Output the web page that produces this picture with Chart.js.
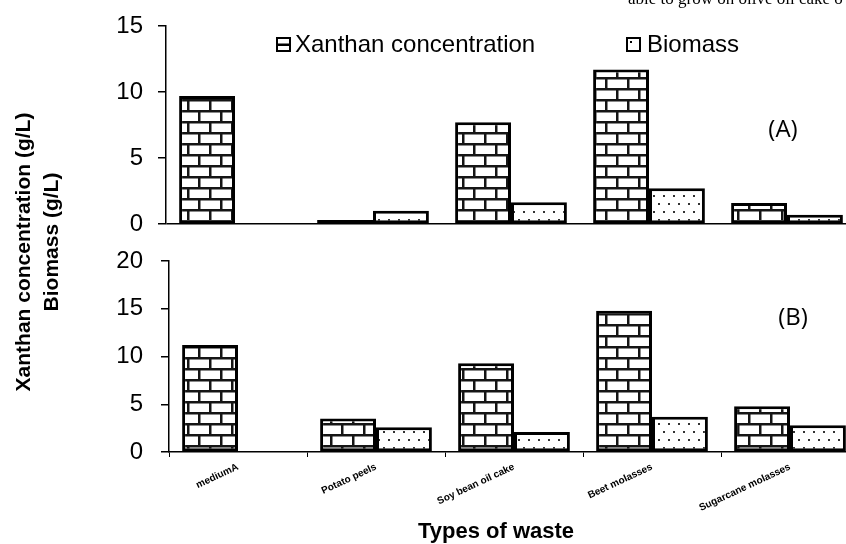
<!DOCTYPE html>
<html lang="en">
<head>
<meta charset="UTF-8">
<script src="https://cdn.jsdelivr.net/npm/chart.js"></script>
<title>Xanthan and biomass by type of waste</title>
<style>
  html, body { margin: 0; padding: 0; background: #fff; overflow: hidden; }
  #wrap { position: relative; width: 846px; height: 544px; overflow: hidden; background: #fff; }
  #boxA { position: absolute; left: 0; top: 0; width: 856px; height: 238px; }
  #boxB { position: absolute; left: 0; top: 236px; width: 859px; height: 308px; }
  .txt { position: absolute; white-space: nowrap; color: #000; }
  .rot { transform: translate(-50%, -50%) rotate(-90deg); font: bold 21px "Liberation Sans", Arial, sans-serif; }
</style>
</head>
<body>
<div id="wrap">
  <div id="boxA"><canvas id="chartA"></canvas></div>
  <div id="boxB"><canvas id="chartB"></canvas></div>
  <div class="txt" style="left:628px; top:-10px; font:17px 'Liberation Serif', 'Times New Roman', serif; line-height:18px;">able to grow on olive oil cake o</div>
  <div class="txt rot" style="left:23px; top:252px;">Xanthan concentration (g/L)</div>
  <div class="txt rot" style="left:51px; top:242px;">Biomass (g/L)</div>
  <div class="txt" style="left:496px; top:531px; transform:translate(-50%,-50%); font:bold 22px 'Liberation Sans', Arial, sans-serif;">Types of waste</div>
</div>
<script>
  // values
  const categories = ['mediumA', 'Potato peels', 'Soy bean oil cake', 'Beet molasses', 'Sugarcane molasses'];
  const xanthanA = [9.7, 0.3, 7.7, 11.7, 1.6];
  const biomassA = [null, 1.0, 1.65, 2.7, 0.7];
  const xanthanB = [11.2, 3.5, 9.3, 14.8, 4.8];
  const biomassB = [null, 2.6, 2.1, 3.7, 2.8];
  const seriesNames = ['Xanthan concentration', 'Biomass'];
  const yMaxA = 15;
  const yMaxB = 20;
  const yStep = 5;

  const FONT = '"Liberation Sans", Arial, sans-serif';

  function brickPattern(ctx) {
    const c = document.createElement('canvas');
    c.width = 22; c.height = 22;
    const g = c.getContext('2d');
    g.fillStyle = '#fff';
    g.fillRect(0, 0, 22, 22);
    g.fillStyle = '#151515';
    g.fillRect(0, 0, 22, 2.5);
    g.fillRect(0, 11, 22, 2.5);
    g.fillRect(0, 0, 2.5, 11);
    g.fillRect(11, 11, 2.5, 11);
    return ctx.createPattern(c, 'repeat');
  }

  function dotPattern(ctx) {
    const c = document.createElement('canvas');
    c.width = 10; c.height = 16;
    const g = c.getContext('2d');
    g.fillStyle = '#fff';
    g.fillRect(0, 0, 10, 16);
    g.fillStyle = '#333';
    g.fillRect(3, 3, 2, 2);
    g.fillRect(8, 11, 2, 2);
    return ctx.createPattern(c, 'repeat');
  }

  // legend + panel letter, drawn on top of each panel
  function panelText(letter, lx, ly, withLegend) {
    return {
      id: 'panelText' + letter,
      afterDraw(chart) {
        const ctx = chart.ctx;
        ctx.save();
        ctx.fillStyle = '#000';
        ctx.textBaseline = 'middle';
        ctx.font = '24px "Open Sans", sans-serif';
        ctx.textAlign = 'center';
        ctx.fillText('(' + letter + ')', lx, ly);
        if (withLegend) {
          ctx.font = '24px ' + FONT;
          ctx.textAlign = 'left';
          ctx.strokeStyle = '#000';
          ctx.lineWidth = 2;
          // xanthan icon
          ctx.strokeRect(277, 38, 13, 13);
          ctx.fillRect(277, 43.5, 13, 2.5);
          ctx.fillText(seriesNames[0], 295, 45);
          // biomass icon
          ctx.strokeRect(627, 38, 13, 13);
          ctx.fillRect(630, 41, 2, 2);
          ctx.fillText(seriesNames[1], 647, 45);
        }
        ctx.restore();
      }
    };
  }

  function makeChart(id, xan, bio, yMax, axisWidth, tickPad, padTop, padBottom, showX, letter, lx, ly) {
    const ctx = document.getElementById(id).getContext('2d');
    return new Chart(ctx, {
      type: 'bar',
      data: {
        labels: categories,
        datasets: [
          { label: seriesNames[0], data: xan, backgroundColor: brickPattern(ctx), borderColor: '#000', borderWidth: 3, borderSkipped: false },
          { label: seriesNames[1], data: bio, backgroundColor: dotPattern(ctx), borderColor: '#000', borderWidth: 3, borderSkipped: false }
        ]
      },
      options: {
        responsive: true,
        maintainAspectRatio: false,
        animation: false,
        layout: { padding: { top: padTop, bottom: padBottom, left: 0, right: 0 } },
        datasets: { bar: { categoryPercentage: 0.81, barPercentage: 1.0 } },
        scales: {
          x: {
            display: showX,
            offset: true,
            grid: { offset: true, color: 'rgba(0,0,0,0)', tickColor: '#000', tickLength: 5, lineWidth: 1 },
            border: { color: '#000', width: 1.5 },
            ticks: {
              autoSkip: false, minRotation: 25, maxRotation: 25, padding: 4, color: '#000',
              font: { family: FONT, size: 10, weight: 'bold' }
            },
            afterFit(scale) {
              if (showX) scale.height = 92;
              scale.paddingLeft = 0;
              scale.paddingRight = 0;
            }
          },
          y: {
            min: 0,
            max: yMax,
            ticks: { stepSize: yStep, color: '#000', padding: tickPad, font: { family: FONT, size: 24 } },
            grid: {
              color: (c) => (c.tick && c.tick.value === 0 && !showX) ? '#000' : 'rgba(0,0,0,0)',
              lineWidth: 1.5,
              tickColor: '#000',
              tickLength: 8
            },
            border: { color: '#000', width: 1.5 },
            afterFit(scale) {
              scale.width = axisWidth;
              scale.paddingTop = 0;
              scale.paddingBottom = 0;
            }
          }
        },
        plugins: {
          legend: { display: false },
          tooltip: { enabled: false }
        }
      },
      plugins: [panelText(letter, lx, ly, !showX)]
    });
  }

  makeChart('chartA', xanthanA, biomassA, yMaxA, 166, 15, 26, 14, false, 'A', 783, 130);
  makeChart('chartB', xanthanB, biomassB, yMaxB, 169, 18, 25, 0, true, 'B', 793, 82);
</script>
</body>
</html>
